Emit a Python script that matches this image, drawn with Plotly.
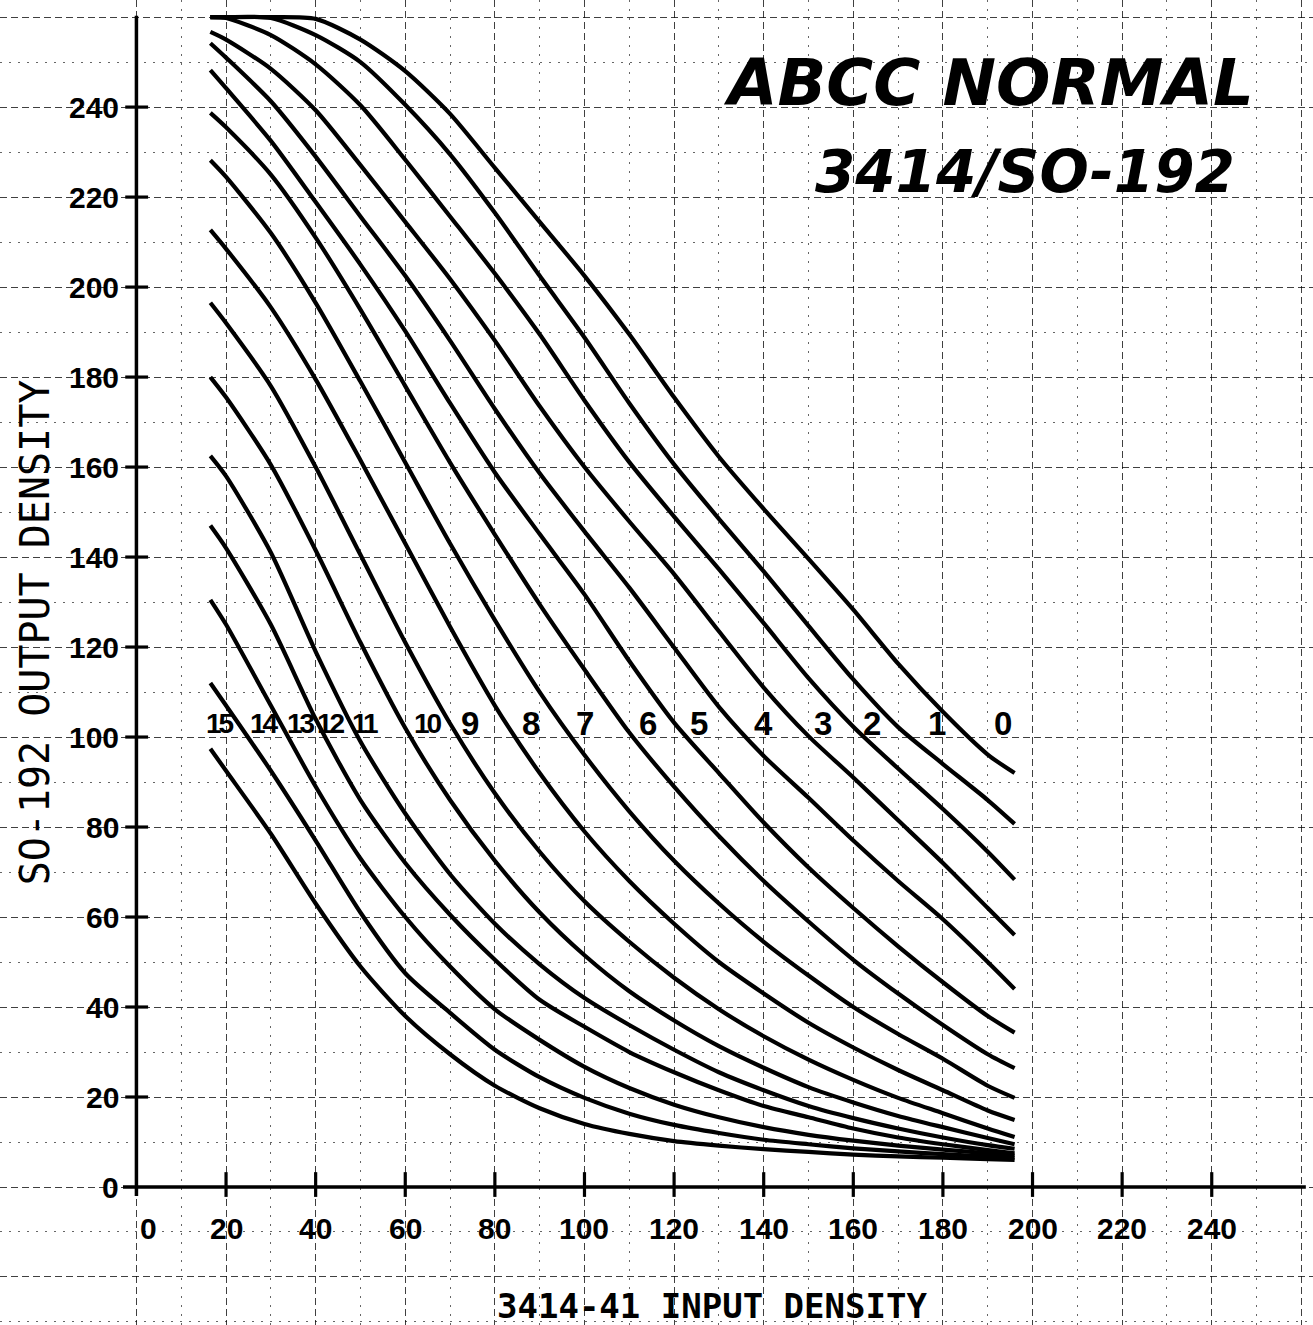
import plotly.graph_objects as go

# ---------------- data ----------------
input_density = [16.5, 20, 30, 40, 50, 60, 70, 80, 90, 100, 110, 120, 130, 140, 150, 160, 170, 180, 190, 196]

curve_0 = [260, 260, 260, 259.6, 255, 248, 238.5, 226.5, 214.5, 202.5, 189.5, 175.5, 162.3, 150.7, 139.6, 128.3, 116.3, 105.6, 96.1, 92]
curve_1 = [260, 260, 259.8, 256, 250, 240.5, 229.5, 216.5, 202.5, 188.8, 174.2, 160.6, 148.5, 136.8, 124.7, 112.8, 102.2, 94, 86, 80.7]
curve_2 = [260, 259.8, 256, 249.5, 240.4, 228.3, 215.7, 203, 189.5, 174.8, 161.1, 149, 137.3, 125.3, 113.1, 102.3, 93, 84, 74.5, 68.3]
curve_3 = [256.7, 255, 248.5, 239.3, 227.1, 214.5, 201.8, 188.1, 173.5, 160, 147.9, 136.2, 123.5, 111, 100.2, 91, 81.5, 72, 62, 56]
curve_4 = [254.2, 251, 241.3, 229, 215.7, 202.5, 188.1, 172.9, 158.6, 145.7, 133.2, 119.9, 106.7, 95.8, 86.5, 77, 68, 59.5, 50, 44]
curve_5 = [248.2, 244.2, 232.5, 218.9, 205, 190.2, 174.2, 158.8, 145.1, 131.7, 116.9, 103.2, 92, 81, 71, 62, 53.5, 45.5, 38, 34.3]
curve_6 = [238.7, 235.5, 225, 211, 195, 178, 161, 145, 129.5, 115, 101, 89, 78, 68, 59, 50.5, 43, 36, 29.5, 26.4]
curve_7 = [228.2, 224.5, 212, 196.5, 179, 161, 143, 126, 110, 96, 83.5, 72.5, 63, 54.5, 47, 40, 34, 28.5, 22.5, 19.8]
curve_8 = [212.7, 208.5, 195.5, 179.5, 161.5, 143, 124.5, 107, 92, 79, 68, 58.5, 50, 43, 36.5, 31, 26, 21.5, 17, 14.9]
curve_9 = [196.5, 192, 178, 160, 140.5, 121, 103, 87.5, 74.5, 63.5, 54.5, 46.5, 39.5, 33.5, 28.3, 23.8, 19.8, 16.4, 13, 11.1]
curve_10 = [180, 175.5, 160.5, 141.5, 121, 102, 86, 72.5, 61, 51.5, 43.5, 37, 31.3, 26.5, 22.2, 18.8, 15.8, 13.3, 10.9, 9.5]
curve_11 = [162.5, 158, 141, 119, 99, 83, 69.5, 58.5, 49.5, 42, 36, 30.5, 25.5, 21.5, 18, 15.3, 13, 11, 9.3, 8.5]
curve_12 = [147, 142, 125, 104, 86, 72, 60.5, 50.5, 41.6, 35.6, 30, 25.5, 21.5, 18, 15.5, 13, 11, 9.5, 8.2, 7.5]
curve_13 = [130.5, 125, 107, 89, 73, 60, 49, 39.5, 32.7, 26.7, 22, 18.3, 15.5, 13.3, 11.6, 10.3, 9.2, 8.3, 7.5, 7]
curve_14 = [112, 107, 92.5, 77, 61, 47.5, 38.7, 30.5, 24.4, 19.8, 16.3, 13.8, 12, 10.5, 9.5, 8.6, 7.9, 7.3, 6.8, 6.5]
curve_15 = [97.4, 92.5, 78.5, 63, 49, 38, 29.5, 22.5, 17.5, 14, 11.8, 10.2, 9.2, 8.4, 7.8, 7.2, 6.8, 6.5, 6.2, 6]

curve_label_text = ["15", "14", "13", "12", "11", "10", "9", "8", "7", "6", "5", "4", "3", "2", "1", "0"]
curve_label_x = [18.6, 28.6, 36.7, 43.4, 51.0, 65.1, 74.5, 88.0, 100.2, 114.1, 125.5, 140.0, 153.2, 164.2, 178.7, 193.3]
curve_label_y = 103

x_tick_vals = [0, 20, 40, 60, 80, 100, 120, 140, 160, 180, 200, 220, 240]
x_tick_text = ["0", "20", "40", "60", "80", "100", "120", "140", "160", "180", "200", "220", "240"]
y_tick_vals = [0, 20, 40, 60, 80, 100, 120, 140, 160, 180, 200, 220, 240]
y_tick_text = ["0", "20", "40", "60", "80", "100", "120", "140", "160", "180", "200", "220", "240"]

title_line_1 = "ABCC NORMAL"
title_line_2 = "3414/SO-192"
x_title = "3414-41 INPUT DENSITY"
y_title = "SO-192 OUTPUT DENSITY"

# ---------------- figure ----------------
curves = [curve_0, curve_1, curve_2, curve_3, curve_4, curve_5, curve_6, curve_7,
          curve_8, curve_9, curve_10, curve_11, curve_12, curve_13, curve_14, curve_15]

X_RANGE = [-30.45, 262.6]
Y_RANGE = [-30.67, 263.8]

fig = go.Figure()

for i, c in enumerate(curves):
    fig.add_trace(go.Scatter(
        x=input_density, y=c, mode="lines", name=str(i),
        line=dict(color="black", width=4.2, shape="spline", smoothing=0.7),
        hoverinfo="skip", showlegend=False))

# axis lines
fig.add_trace(go.Scatter(x=[-3, 261], y=[0, 0], mode="lines",
                         line=dict(color="black", width=3.5), hoverinfo="skip", showlegend=False))
fig.add_trace(go.Scatter(x=[0, 0], y=[-2, 260.3], mode="lines",
                         line=dict(color="black", width=3.5), hoverinfo="skip", showlegend=False))

# tick marks
tx, ty = [], []
for v in x_tick_vals[1:]:
    tx += [v, v, None]
    ty += [3.3, -2.2, None]
for v in y_tick_vals[1:]:
    tx += [-2.5, 2.6, None]
    ty += [v, v, None]
fig.add_trace(go.Scatter(x=tx, y=ty, mode="lines", line=dict(color="black", width=3.2),
                         hoverinfo="skip", showlegend=False))

tick_font = dict(family="Liberation Sans, Arial, sans-serif", size=30, color="black", weight="bold")
for v, t in zip(x_tick_vals, x_tick_text):
    fig.add_annotation(x=v, y=-9.3, text=t, showarrow=False, font=tick_font,
                       xanchor="center", yanchor="middle", xshift=12 if v == 0 else 0)
for v, t in zip(y_tick_vals, y_tick_text):
    fig.add_annotation(x=-3.4, y=v, text=t, showarrow=False, font=tick_font,
                       xanchor="right", yanchor="middle")

for t, lx in zip(curve_label_text, curve_label_x):
    if len(t) == 2:
        txt = "<span style='letter-spacing:-3px'>" + t + "</span>"
        size = 28
    else:
        txt = t
        size = 33
    fig.add_annotation(x=lx, y=curve_label_y, text=txt, showarrow=False,
                       font=dict(family="Liberation Sans, Arial, sans-serif", size=size,
                                 color="black", weight="bold"),
                       xanchor="center", yanchor="middle")

fig.add_annotation(x=190.1, y=245.3, text=title_line_1, showarrow=False,
                   font=dict(family="DejaVu Sans, sans-serif", size=64, color="black",
                             style="italic", weight="bold"),
                   xanchor="center", yanchor="middle")
fig.add_annotation(x=198.4, y=225.6, text=title_line_2, showarrow=False,
                   font=dict(family="DejaVu Sans, sans-serif", size=58, color="black",
                             style="italic", weight="bold"),
                   xanchor="center", yanchor="middle")

fig.add_annotation(x=128.5, y=-26.4, text=x_title, showarrow=False,
                   font=dict(family="DejaVu Sans Mono, monospace", size=34, color="black", weight="bold"),
                   xanchor="center", yanchor="middle")
fig.add_annotation(x=-22.6, y=123.3, text=y_title, showarrow=False, textangle=-90,
                   font=dict(family="DejaVu Sans Mono, monospace", size=40, color="black"),
                   xanchor="center", yanchor="middle")

fig.update_layout(
    width=1313, height=1325,
    margin=dict(l=0, r=0, t=0, b=0),
    paper_bgcolor="white", plot_bgcolor="white",
    showlegend=False,
    xaxis=dict(range=X_RANGE, tickvals=list(range(0, 261, 20)), showticklabels=False, ticks="",
               showgrid=True, gridcolor="rgba(0,0,0,0.75)", gridwidth=1.3, griddash="7px,4px",
               zeroline=False, showline=False, fixedrange=True,
               minor=dict(tickvals=list(range(10, 261, 20)), showgrid=True,
                          gridcolor="rgba(0,0,0,0.6)", gridwidth=1, griddash="2px,7px")),
    yaxis=dict(range=Y_RANGE, tickvals=list(range(-20, 261, 20)), showticklabels=False, ticks="",
               showgrid=True, gridcolor="rgba(0,0,0,0.75)", gridwidth=1.3, griddash="7px,4px",
               zeroline=False, showline=False, fixedrange=True,
               minor=dict(tickvals=list(range(-30, 261, 20)), showgrid=True,
                          gridcolor="rgba(0,0,0,0.6)", gridwidth=1, griddash="2px,7px")),
)

fig.write_html("out.html")
